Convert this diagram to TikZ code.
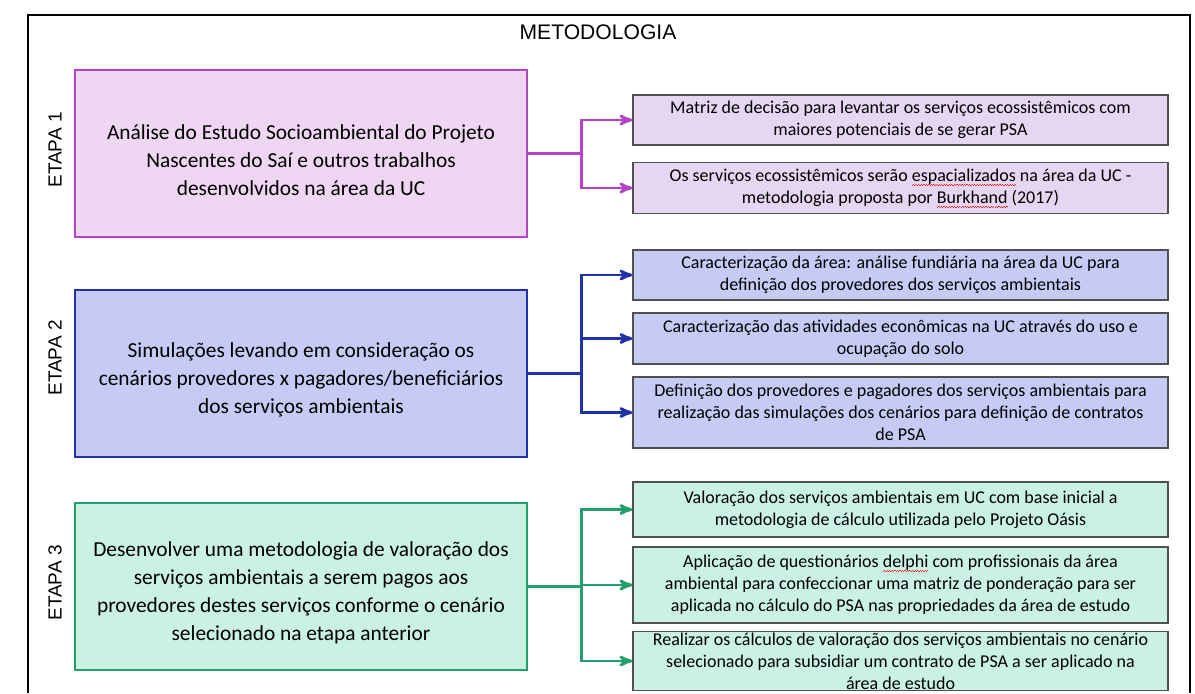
\documentclass[tikz,border=0pt]{standalone}
\usepackage{fontspec}
\setmainfont{Carlito}
\newfontfamily\etapafont{Liberation Sans}
\usetikzlibrary{arrows,positioning}

\definecolor{pline}{HTML}{B443C8}
\definecolor{pfill}{HTML}{EFD6F2}
\definecolor{pfillb}{HTML}{E6D6F2}
\definecolor{bline}{HTML}{1F32A8}
\definecolor{bfill}{HTML}{C6CBF5}
\definecolor{gline}{HTML}{21A06E}
\definecolor{gfill}{HTML}{C9F2E2}
\definecolor{boxgray}{HTML}{505050}

% marca ondulada vermelha do corretor
\newcommand\spellmark[1]{\leavevmode\setbox0=\hbox{#1}\rlap{\color{red!85}\lower2.4pt\hbox to \wd0{\xleaders\hbox{\rule[-0.25pt]{0.9pt}{0.3pt}\rule[0.25pt]{0.9pt}{0.3pt}}\hfill}}\box0\relax}
% empurra o texto das etapas um pouco para baixo
\newcommand\abaixa{\rule{0pt}{20pt}}

\begin{document}
\begin{tikzpicture}[x=0.025cm,y=-0.025cm,>=stealth',
    etapa/.style={draw,line width=2pt,minimum width=11.3cm,minimum height=4.175cm,align=center,font=\fontsize{15.2}{19.9}\selectfont},
    tarefa/.style={draw=boxgray,line width=0.9pt,minimum width=13.375cm,inner sep=1pt,align=center,font=\fontsize{12.8}{15.6}\selectfont},
    rotulo/.style={rotate=90,font=\etapafont\fontsize{13.5}{16}\selectfont},
    liga/.style={line width=2pt}]
    \useasboundingbox (0,0) rectangle (1195,693);

    % moldura
    \draw[line width=1.5pt] (28,693) -- (28,15) -- (1190,15) -- (1190,693);
    \node   [font=\etapafont\fontsize{15}{18}\selectfont]   (titulo)   at (598,32)    {METODOLOGIA};

    % etapas
    \node   [rotulo]                                (rot1)  at (55,150)     {ETAPA 1};
    \node   [rotulo]                                (rot2)  at (55,358)     {ETAPA 2};
    \node   [rotulo]                                (rot3)  at (55,583)     {ETAPA 3};

    \node   [etapa,draw=pline,fill=pfill]           (e1)    at (301,153.5)  {\abaixa Análise do Estudo Socioambiental do Projeto\\Nascentes do Saí e outros trabalhos\\desenvolvidos na área da UC};
    \node   [etapa,draw=bline,fill=bfill]           (e2)    at (301,373.5)  {\abaixa Simulações levando em consideração os\\cenários provedores x pagadores/beneficiários\\dos serviços ambientais};
    \node   [etapa,draw=gline,fill=gfill]           (e3)    at (301,586.5)  {\abaixa Desenvolver uma metodologia de valoração dos\\serviços ambientais a serem pagos aos\\provedores destes serviços conforme o cenário\\selecionado na etapa anterior};

    % atividades
    \node   [tarefa,fill=pfillb,minimum height=1.25cm]  (r1a)   at (900.5,120)  {Matriz de decisão para levantar os serviços ecossistêmicos com\\maiores potenciais de se gerar PSA};
    \node   [tarefa,fill=pfillb,minimum height=1.275cm] (r1b)   at (900.5,188)  {Os serviços ecossistêmicos serão \spellmark{espacializados} na área da UC -\\metodologia proposta por \spellmark{Burkhand} (2017)};

    \node   [tarefa,fill=bfill,minimum height=1.25cm]   (r2a)   at (900.5,275)  {Caracterização da área: análise fundiária na área da UC para\\definição dos provedores dos serviços ambientais};
    \node   [tarefa,fill=bfill,minimum height=1.275cm]  (r2b)   at (900.5,338.5) {Caracterização das atividades econômicas na UC através do uso e\\ocupação do solo};
    \node   [tarefa,fill=bfill,minimum height=1.775cm]  (r2c)   at (900.5,412.5) {Definição dos provedores e pagadores dos serviços ambientais para\\realização das simulações dos cenários para definição de contratos\\de PSA};

    \node   [tarefa,fill=gfill,minimum height=1.375cm]  (r3a)   at (900.5,509.5) {Valoração dos serviços ambientais em UC com base inicial a\\metodologia de cálculo utilizada pelo Projeto Oásis};
    \node   [tarefa,fill=gfill,minimum height=1.9cm]    (r3b)   at (900.5,585)  {Aplicação de questionários \spellmark{delphi} com profissionais da área\\ambiental para confeccionar uma matriz de ponderação para ser\\aplicada no cálculo do PSA nas propriedades da área de estudo};
    \node   [tarefa,fill=gfill,minimum height=1.45cm]   (r3c)   at (900.5,661)  {Realizar os cálculos de valoração dos serviços ambientais no cenário\\selecionado para subsidiar um contrato de PSA a ser aplicado na\\área de estudo};

    % ligacoes
    \coordinate [right=1.325cm of e1.east]  (b1);
    \coordinate [right=1.325cm of e2.east]  (b2);
    \coordinate [right=1.325cm of e3.east]  (b3);

    \draw   [liga,pline]        (e1.east) -- (b1);
    \draw   [liga,pline,->]     (b1) |- (r1a.west);
    \draw   [liga,pline,->]     (b1) |- (r1b.west);

    \draw   [liga,bline]        (e2.east) -- (b2);
    \draw   [liga,bline,->]     (b2) |- (r2a.west);
    \draw   [liga,bline,->]     (b2) |- (r2b.west);
    \draw   [liga,bline,->]     (b2) |- (r2c.west);

    \draw   [liga,gline]        (e3.east) -- (b3);
    \draw   [liga,gline,->]     (b3) |- (r3a.west);
    \draw   [liga,gline,->]     (b3) |- (r3b.west);
    \draw   [liga,gline,->]     (b3) |- (r3c.west);
\end{tikzpicture}
\end{document}
